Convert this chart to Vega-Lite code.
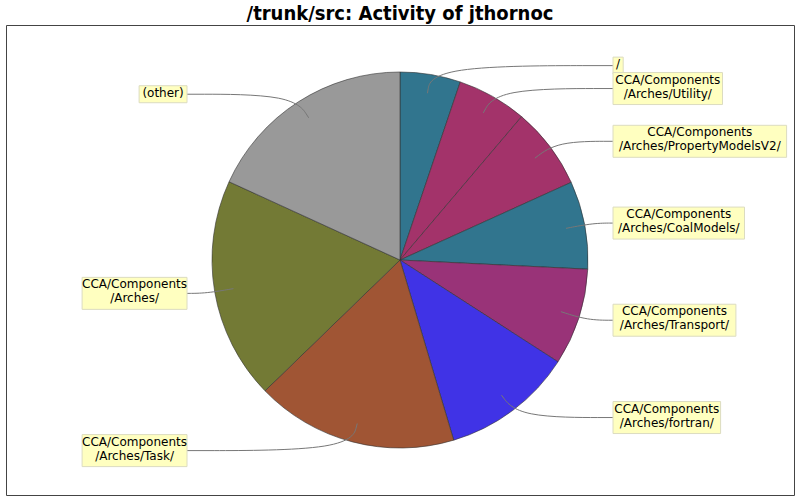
{
  "$schema": "https://vega.github.io/schema/vega-lite/v6.json",
  "autosize": {"type": "none"},
  "padding": {"left": 6, "top": 25, "right": 6, "bottom": 5},
  "width": 788,
  "height": 470,
  "background": "white",
  "title": {"text": "/trunk/src: Activity of jthornoc", "font": "DejaVu Sans Condensed, DejaVu Sans", "fontSize": 20, "fontWeight": "bold", "color": "black", "anchor": "middle", "frame": "group", "baseline": "bottom", "offset": 1, "dy": 20},
  "config": {"view": {"stroke": "#444", "strokeWidth": 1}},
  "data": {"values": [
    {"label": "/", "value": 187},
    {"label": "CCA/Components\n/Arches/Utility/", "value": 216},
    {"label": "CCA/Components\n/Arches/PropertyModelsV2/", "value": 253},
    {"label": "CCA/Components\n/Arches/CoalModels/", "value": 272},
    {"label": "CCA/Components\n/Arches/Transport/", "value": 300},
    {"label": "CCA/Components\n/Arches/fortran/", "value": 406},
    {"label": "CCA/Components\n/Arches/Task/", "value": 625},
    {"label": "CCA/Components\n/Arches/", "value": 687},
    {"label": "(other)", "value": 654}
  ]},
  "transform": [
    {"window": [{"op": "row_number", "as": "i"}]},
    {"window": [{"op": "sum", "field": "value", "as": "cum"}], "sort": [{"field": "i"}], "frame": [null, 0]},
    {"joinaggregate": [{"op": "sum", "field": "value", "as": "total"}]},
    {"calculate": "(datum.cum - datum.value / 2) / datum.total * 2 * PI", "as": "mid"},
    {"calculate": "sin(datum.mid)", "as": "sx"},
    {"calculate": "-cos(datum.mid)", "as": "cy"},
    {"calculate": "datum.sx >= 0 ? 1 : -1", "as": "side"},
    {"calculate": "197 * datum.cy", "as": "ly"},
    {"calculate": "split(datum.label, '\\n')", "as": "lines"},
    {"calculate": "length(datum.lines)", "as": "nl"},
    {"calculate": "8.6 * length(replace(datum.lines[0], regexp('[^A-Z]', 'g'), '')) + 6.7 * length(replace(datum.lines[0], regexp('[^a-z0-9]', 'g'), '')) + 4.2 * length(replace(datum.lines[0], regexp('[A-Za-z0-9]', 'g'), ''))", "as": "w1"},
    {"calculate": "datum.nl > 1 ? 8.6 * length(replace(datum.lines[1], regexp('[^A-Z]', 'g'), '')) + 6.7 * length(replace(datum.lines[1], regexp('[^a-z0-9]', 'g'), '')) + 4.2 * length(replace(datum.lines[1], regexp('[A-Za-z0-9]', 'g'), '')) : 0", "as": "w2"},
    {"calculate": "max(datum.w1, datum.w2) + 6", "as": "w"},
    {"calculate": "datum.nl > 1 ? 32 : 17", "as": "h"},
    {"calculate": "datum.side > 0 ? 213 : -213 - datum.w", "as": "bxa"},
    {"calculate": "datum.side > 0 ? 213 + datum.w : -213", "as": "bxb"},
    {"calculate": "(datum.bxa + datum.bxb) / 2", "as": "tx"},
    {"calculate": "datum.ly - datum.h / 2", "as": "bya"},
    {"calculate": "datum.ly + datum.h / 2", "as": "byb"}
  ],
  "layer": [
    {
      "mark": {"type": "arc", "outerRadius": 188, "stroke": "#333", "strokeWidth": 0.6},
      "encoding": {
        "theta": {"field": "value", "type": "quantitative", "stack": true},
        "order": {"field": "i", "type": "quantitative"},
        "color": {"field": "label", "type": "nominal", "legend": null,
          "scale": {
            "domain": ["/", "CCA/Components\n/Arches/Utility/", "CCA/Components\n/Arches/PropertyModelsV2/", "CCA/Components\n/Arches/CoalModels/", "CCA/Components\n/Arches/Transport/", "CCA/Components\n/Arches/fortran/", "CCA/Components\n/Arches/Task/", "CCA/Components\n/Arches/", "(other)"],
            "range": ["#31758E", "#A3336A", "#A3336A", "#31758E", "#993378", "#4033E6", "#A05534", "#737A35", "#999999"]
          }
        }
      }
    },
    {
      "transform": [
        {"calculate": "[169 * datum.sx, 197 * datum.sx, datum.side * 213]", "as": "px"},
        {"calculate": "[169 * datum.cy, 197 * datum.cy, datum.ly]", "as": "py"},
        {"calculate": "[0, 1, 2]", "as": "k"},
        {"flatten": ["px", "py", "k"]}
      ],
      "mark": {"type": "line", "interpolate": "basis", "stroke": "#777", "strokeWidth": 1},
      "encoding": {
        "x": {"field": "px", "type": "quantitative", "axis": null, "scale": {"domain": [-394, 394], "nice": false, "zero": false}},
        "y": {"field": "py", "type": "quantitative", "axis": null, "scale": {"domain": [-235, 235], "nice": false, "zero": false, "reverse": true}},
        "order": {"field": "k", "type": "quantitative"},
        "detail": {"field": "label", "type": "nominal"}
      }
    },
    {
      "mark": {"type": "rect", "fill": "#FFFFC0", "stroke": "#DCDCC0", "strokeWidth": 1},
      "encoding": {
        "x": {"field": "bxa", "type": "quantitative", "axis": null, "scale": {"domain": [-394, 394], "nice": false, "zero": false}},
        "x2": {"field": "bxb"},
        "y": {"field": "bya", "type": "quantitative", "axis": null, "scale": {"domain": [-235, 235], "nice": false, "zero": false, "reverse": true}},
        "y2": {"field": "byb"}
      }
    },
    {
      "mark": {"type": "text", "font": "DejaVu Sans", "fontSize": 12, "lineHeight": 14, "lineBreak": "\n", "align": "center", "baseline": "top", "dy": 2, "color": "black"},
      "encoding": {
        "x": {"field": "tx", "type": "quantitative", "axis": null, "scale": {"domain": [-394, 394], "nice": false, "zero": false}},
        "y": {"field": "bya", "type": "quantitative", "axis": null, "scale": {"domain": [-235, 235], "nice": false, "zero": false, "reverse": true}},
        "text": {"field": "label", "type": "nominal"}
      }
    }
  ]
}
